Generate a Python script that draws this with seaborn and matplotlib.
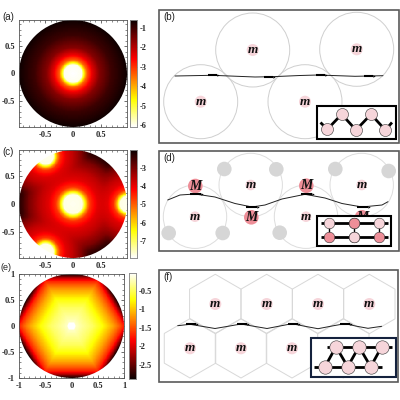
import numpy as np
import matplotlib
matplotlib.use("Agg")
import matplotlib.pyplot as plt
from matplotlib.patches import Circle, Rectangle, RegularPolygon
import seaborn as sns

# value against distance from the hot spot
dist_a = [0, 0.16, 0.19, 0.22, 0.25, 0.35, 0.48, 0.7, 1.0, 1.4]
vals_a = [-6.1, -6.0, -5.0, -4.1, -3.4, -2.4, -1.6, -1.0, -0.6, -0.59]

dist_c = [0, 0.17, 0.22, 0.26, 0.31, 0.45, 0.6, 0.8, 1.0, 1.4]
vals_c = [-7.96, -7.9, -6.5, -5.5, -4.7, -4.0, -3.7, -3.1, -2.1, -2.0]
spots_c = [(0, 0), (1, 0), (-0.5, 0.87), (-0.5, -0.87)]
spot_size_c = [1.0, 1.2, 1.2, 1.2]

# (e) is read along the hexagon norm, 1 = the hexagon through the six bright points
dist_e = [0, 0.07, 0.1, 0.2, 0.4, 0.6, 0.8, 0.9, 1.0, 1.05, 1.1, 1.155, 1.3]
vals_e = [-0.02, -0.03, -0.2, -0.3, -0.47, -0.75, -1.15, -1.4, -1.7, -2.0, -2.4, -2.85, -2.89]

ticks_a = [-1, -2, -3, -4, -5, -6]
ticks_c = [-3, -4, -5, -6, -7]
ticks_e = [-0.5, -1, -1.5, -2, -2.5]

# schematic panels, in picture pixels
big_b = [(252.7, 50), (356.7, 49.3), (200.7, 101.7), (305, 101.7)]
curve_b_x = [175, 212, 255, 272, 300, 318, 355, 383]
curve_b_y = [76, 75.3, 77, 76.7, 75.5, 75, 76.3, 75.7]
thick_b = [(208, 217, 75.3), (264, 273, 76.7), (316, 325, 74.9), (364, 373, 76.3)]
inset_b_x = [327.3, 341.7, 356, 371, 385.3]
inset_b_y = [129.3, 114.3, 130, 114.3, 130]

big_d = [(195, 216.7), (250.7, 185), (306, 216.7), (361.7, 185)]
heavy_d = [(195.3, 186), (251.3, 217.3), (306.3, 185.7), (362, 217.3)]
gray_d_x = [168.7, 222.7, 224.3, 276.3, 279.7, 335.3, 335.3, 388.7]
gray_d_y = [233, 233, 169, 169.3, 232.7, 232.7, 169, 171]
curve_d_x = [167.7, 180, 195, 215, 235, 252, 265, 282, 305, 325, 342, 362, 382, 388]
curve_d_y = [200, 195, 194, 197, 203.5, 207, 205, 199, 194.3, 198, 203.5, 207, 205, 201.7]
thick_d = [(190, 201, 194), (246, 257, 207), (301, 312, 194), (357, 368, 206.7)]
inset_d_x = [329.3, 354, 379.3]
inset_d_top = 223
inset_d_bot = 237.3

hex_top = [(215.3, 304), (266.7, 304), (318, 304), (369.3, 304)]
hex_bot = [(190, 348.3), (241, 348.3), (292, 348.3), (343.3, 348.3)]
curve_f_x = [177.7, 190, 202, 215, 228, 241, 254, 267, 280, 292, 305, 318, 332, 345, 357, 368, 381.7]
curve_f_y = [325.7, 324.3, 326.3, 328.5, 326.3, 324, 326.3, 328.5, 326, 323.7, 326.3, 328.7, 326, 323.7, 326.3, 328.3, 326.3]
thick_f = [(186, 196, 324.3), (237, 247, 324), (288, 298, 323.7), (340, 350, 323.7)]
inset_f_top_x = [336, 359, 381.7]
inset_f_bot_x = [325, 347.7, 370.7]
inset_f_top_y = 346.7
inset_f_bot_y = 366.7

sns.set_theme(style="white")
plt.rcParams["font.family"] = ["Liberation Serif", "DejaVu Sans"]
PINK = "#f6d5da"
RED = "#ee8e98"
LINE = "#cfcfcf"
FRAME = "#5a5a5a"

fig = plt.figure(figsize=(4, 4), dpi=100)


def px_axes(x0, y0, x1, y1):
    return fig.add_axes([x0 / 400, 1 - y1 / 400, (x1 - x0) / 400, (y1 - y0) / 400])


def grid(lim, n=240):
    axis = np.linspace(-lim, lim, n)
    return np.meshgrid(axis, axis[::-1])


def field_a(lim):
    xx, yy = grid(lim)
    return np.interp(np.hypot(xx, yy), dist_a, vals_a)


def field_c(lim):
    # nearest spot wins, softened so the ridges are not sharp
    xx, yy = grid(lim)
    parts = [np.interp(np.hypot(xx - sx, yy - sy) * k, dist_c, vals_c)
             for (sx, sy), k in zip(spots_c, spot_size_c)]
    v = np.log(np.sum(np.exp(-5 * np.stack(parts)), axis=0)) / -5
    return np.clip(v + 0.1, -7.96, -1.99)


def field_e(lim):
    xx, yy = grid(lim)
    r = np.hypot(xx, yy)
    th = np.abs(np.degrees(np.arctan2(yy, xx))) % 60
    th = np.where(th > 30, 60 - th, th)
    h = r * np.cos(np.radians(30 - th)) / np.cos(np.radians(30))
    return np.interp(h, dist_e, vals_e)


def heat_panel(box, cbox, field, vmin, vmax, cmap, cticks, lim, ticks, label, label_xy, label_size=7):
    ax = px_axes(*box)
    cax = px_axes(*cbox)
    n = field.shape[0]
    sns.heatmap(field, ax=ax, cbar_ax=cax, cmap=cmap, vmin=vmin, vmax=vmax,
                xticklabels=False, yticklabels=False, cbar_kws={"ticks": cticks})
    ax.collections[0].set_clip_path(Circle((n / 2, n / 2), n / 2, transform=ax.transData))
    to_x = lambda v: (np.asarray(v) + lim) / (2 * lim) * n
    to_y = lambda v: (lim - np.asarray(v)) / (2 * lim) * n
    ax.set_xticks(to_x(ticks))
    ax.set_xticklabels([f"{v:g}" for v in ticks], fontsize=6, fontweight="bold")
    ax.set_yticks(to_y(ticks))
    ax.set_yticklabels([f"{v:g}" for v in ticks], fontsize=6, fontweight="bold")
    minor = np.arange(-10, 11) / 10
    minor = minor[np.abs(minor) <= lim]
    ax.set_xticks(to_x(minor), minor=True)
    ax.set_yticks(to_y(minor), minor=True)
    ax.tick_params(which="major", direction="in", length=2.5, width=0.5, color="#333333",
                   top=True, right=True, bottom=True, left=True, pad=3)
    ax.tick_params(which="minor", direction="in", length=1.2, width=0.4, color="#333333",
                   top=True, right=True, bottom=True, left=True)
    for s in ax.spines.values():
        s.set_visible(True)
        s.set_linewidth(0.6)
        s.set_color("#555555")
    cax.set_yticks(cticks)
    cax.set_yticklabels([f"{v:g}" for v in cticks], fontsize=6, fontweight="bold")
    cax.tick_params(length=1.5, width=0.4, direction="in", pad=2)
    for s in cax.spines.values():
        s.set_visible(True)
        s.set_linewidth(0.5)
        s.set_color("#888888")
    fig.text(label_xy[0] / 400, 1 - label_xy[1] / 400, label, fontsize=label_size,
             family="Liberation Sans", va="center", color="#222222")


heat_ticks = [-0.5, 0, 0.5]
heat_panel((19, 20, 127, 127), (130, 20, 137, 127), field_a(0.98),
           -6.1, -0.59, "hot_r", ticks_a, 0.98, heat_ticks, "(a)", (2, 17))
heat_panel((19, 150, 127, 258), (130, 150, 137, 258), field_c(0.98),
           -7.96, -1.99, "hot_r", ticks_c, 0.98, heat_ticks, "(c)", (2, 152))
heat_panel((19, 274, 124, 378), (129, 273, 136, 379), field_e(1.0),
           -2.89, -0.02, "hot", ticks_e, 1.0, [-1, -0.5, 0, 0.5, 1], "(e)", (0.5, 268), 6.5)

# schematic overlay works in picture pixels
ov = fig.add_axes([0, 0, 1, 1])
ov.patch.set_alpha(0)
ov.axis("off")


def discs(xs, ys, radius, color, edge="none", lw=0, z=3):
    sns.scatterplot(x=list(xs), y=list(ys), s=(2 * radius * 0.72) ** 2, color=color,
                    edgecolor=edge, linewidth=lw, zorder=z, ax=ov, legend=False)


def panel_box(x0, y0, x1, y1, label):
    ov.add_patch(Rectangle((x0, y0), x1 - x0, y1 - y0, fill=False, ec=FRAME, lw=1.2, zorder=6))
    ov.text(x0 + 4, y0 + 7, label, fontsize=7, family="Liberation Sans", va="center", color="#222222")


def wave(xs, ys, thick):
    sns.lineplot(x=xs, y=ys, color="#222222", lw=0.7, ax=ov, legend=False, zorder=4, errorbar=None, sort=False)
    for x0, x1, y in thick:
        ov.plot([x0, x1], [y, y], color="black", lw=1.5, zorder=4, solid_capstyle="butt")
        ov.scatter([x1 + 0.5], [y], marker=">", s=3, color="black", lw=0, zorder=4)


def letter(x, y, s="m", size=9.5):
    ov.text(x, y, s, fontsize=size, style="italic", fontweight="bold", ha="center", va="center", zorder=5, color="#111111")


def inset(x0, y0, x1, y1, edge="black"):
    ov.add_patch(Rectangle((x0, y0), x1 - x0, y1 - y0, fc="white", ec=edge, lw=1.5, zorder=7))


def bond(xs, ys, lw=2):
    ov.plot(xs, ys, color="black", lw=lw, zorder=8, solid_capstyle="butt")


# (b)
panel_box(159, 10, 399, 143, "(b)")
for c in big_b:
    ov.add_patch(Circle(c, 37, fill=False, ec=LINE, lw=0.7, zorder=2))
    discs([c[0]], [c[1]], 6, PINK)
    letter(c[0], c[1])
wave(curve_b_x, curve_b_y, thick_b)
inset(316.7, 106, 395.7, 139.3)
bond([320.5] + inset_b_x + [392], [122.5] + inset_b_y + [122.5])
discs(inset_b_x, inset_b_y, 6, PINK, edge="#333333", lw=0.4, z=9)

# (d)
panel_box(159, 151, 399, 251, "(d)")
for c in big_d:
    ov.add_patch(Circle(c, 31.7, fill=False, ec="#dddddd", lw=0.7, zorder=2))
    discs([c[0]], [c[1]], 5.3, PINK)
    letter(c[0], c[1])
discs(gray_d_x, gray_d_y, 7.3, "#d6d6d6")
for c in heavy_d:
    discs([c[0]], [c[1]], 7.3, RED)
    letter(c[0], c[1], "M", 10)
wave(curve_d_x, curve_d_y, thick_d)
inset(317.3, 215.7, 391, 246)
for x in inset_d_x:
    bond([x, x], [inset_d_top, inset_d_bot], lw=1)
bond([320.7, 388], [inset_d_top, inset_d_top])
bond([320.7, 388], [inset_d_bot, inset_d_bot])
discs(inset_d_x, [inset_d_top] * 3, 5.3, PINK, edge="#333333", lw=0.4, z=9)
discs([inset_d_x[1]], [inset_d_top], 5.3, RED, edge="#333333", lw=0.4, z=10)
discs(inset_d_x, [inset_d_bot] * 3, 5.3, RED, edge="#333333", lw=0.4, z=9)
discs([inset_d_x[1]], [inset_d_bot], 5.3, PINK, edge="#333333", lw=0.4, z=10)

# (f)
panel_box(159, 270, 398, 382, "(f)")
for c in hex_top + hex_bot:
    ov.add_patch(RegularPolygon(c, 6, radius=29.7, fill=False, ec="#d8d8d8", lw=0.7, zorder=2))
for c in hex_top + hex_bot[:3]:
    discs([c[0]], [c[1]], 6, PINK)
    letter(c[0], c[1])
wave(curve_f_x, curve_f_y, thick_f)
inset(310.7, 337.7, 395.7, 377, edge="#14213d")
bond([inset_f_bot_x[0], inset_f_top_x[0], inset_f_bot_x[1], inset_f_top_x[1], inset_f_bot_x[2], inset_f_top_x[2]],
     [inset_f_bot_y, inset_f_top_y, inset_f_bot_y, inset_f_top_y, inset_f_bot_y, inset_f_top_y])
bond([327, 392], [inset_f_top_y, inset_f_top_y])
bond([314, 382], [inset_f_bot_y, inset_f_bot_y])
discs(inset_f_top_x, [inset_f_top_y] * 3, 6.7, PINK, edge="#333333", lw=0.4, z=9)
discs(inset_f_bot_x, [inset_f_bot_y] * 3, 6.7, PINK, edge="#333333", lw=0.4, z=9)

ov.set_xlim(0, 400)
ov.set_ylim(400, 0)
fig.savefig("out.png", dpi=100)
